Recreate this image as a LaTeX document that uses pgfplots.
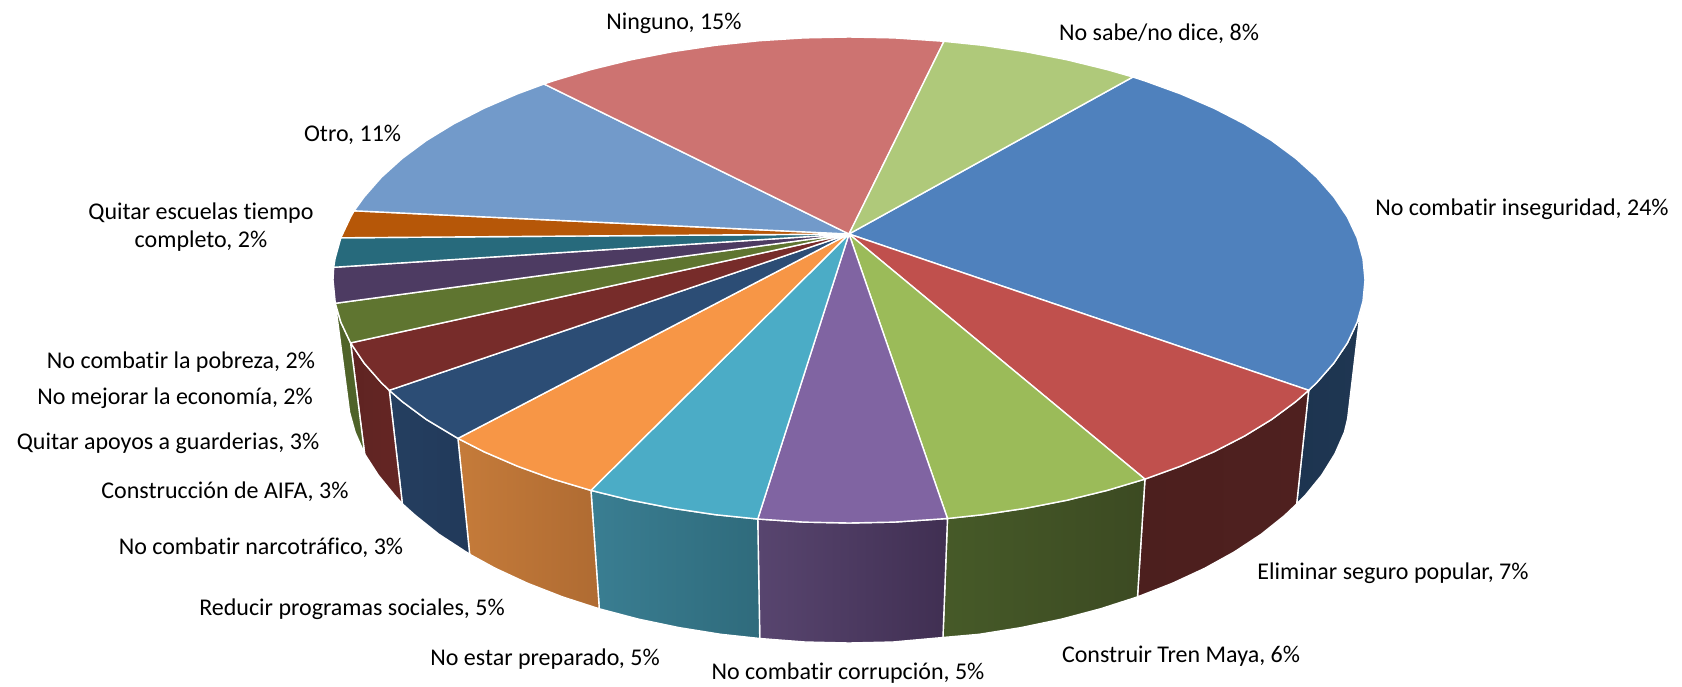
\documentclass[border=0pt]{standalone}
\usepackage{fontspec}
\setmainfont[Ligatures=NoCommon]{Carlito}
\usepackage{pgfplots}
\pgfplotsset{compat=1.18}

\definecolor{cblue}{HTML}{4F81BD}
\definecolor{cred}{HTML}{C0504D}
\definecolor{cgreen}{HTML}{9BBB59}
\definecolor{cpurple}{HTML}{8064A2}
\definecolor{cteal}{HTML}{4BACC6}
\definecolor{corange}{HTML}{F79646}
\definecolor{cnavy}{HTML}{2C4D75}
\definecolor{cmaroon}{HTML}{772C2A}
\definecolor{colive}{HTML}{5F7530}
\definecolor{cdpurple}{HTML}{4D3B62}
\definecolor{cdteal}{HTML}{276A7C}
\definecolor{cdorange}{HTML}{B65708}
\definecolor{cotro}{HTML}{729ACA}
\definecolor{cning}{HTML}{CD7371}
\definecolor{cnosabe}{HTML}{AFC97A}
% side wall colours, left and right end of each shade
\definecolor{sblueL}{HTML}{1D3450}
\definecolor{sblueR}{HTML}{1F3752}
\definecolor{sredL}{HTML}{4C1F1E}
\definecolor{sredR}{HTML}{4F201F}
\definecolor{sgreenL}{HTML}{465A28}
\definecolor{sgreenR}{HTML}{3C4A22}
\definecolor{spurpleL}{HTML}{58456F}
\definecolor{spurpleR}{HTML}{402F52}
\definecolor{stealL}{HTML}{3A7E92}
\definecolor{stealR}{HTML}{2F6B7C}
\definecolor{sorangeL}{HTML}{C57B3A}
\definecolor{sorangeR}{HTML}{AF6B32}
\definecolor{snavyL}{HTML}{253F60}
\definecolor{snavyR}{HTML}{21395A}
\definecolor{smaroonL}{HTML}{5F2422}
\definecolor{smaroonR}{HTML}{652624}
\definecolor{soliveL}{HTML}{4F6329}
\definecolor{soliveR}{HTML}{4F6329}

\pgfplotsset{
  wedge/.style={draw=white,line width=0.7pt,fill=#1,mark=none,line join=round},
  side/.style={draw=white,line width=0.7pt,left color=s#1L,right color=s#1R,mark=none,line join=round},
}

\begin{document}
\begin{tikzpicture}
\begin{axis}[
    hide axis,
    scale only axis,
    width=841pt,height=343pt,
    xmin=1.61,xmax=1675.46,ymin=0,ymax=686,
    y dir=reverse,
    clip=false,
]
\path (axis cs:1.61,0) rectangle (axis cs:1675.46,686);

% side walls
\addplot[side=blue] coordinates {(1355.5,310)(1352.2,322.2)(1342.5,342.9)(1329,363.1)(1311.9,382.7)(1304,390.3)(1292,504)(1300.2,495.8)(1316.9,475.2)(1330,454)(1339.5,432.3)(1342.7,419)} -- cycle;
\addplot[side=red] coordinates {(1304,390.3)(1291.2,401.5)(1267.2,419.4)(1239.8,436.2)(1209.6,451.8)(1176.6,466.1)(1141,479.1)(1133.6,596.9)(1168.3,583.3)(1200.5,568.3)(1230,551.9)(1256.6,534.3)(1280,515.5)(1292,504)} -- cycle;
\addplot[side=green] coordinates {(1141,479.1)(1103.3,490.4)(1063.5,500.2)(1022.1,508.3)(979.4,514.7)(944.5,518.5)(940,637.5)(976.1,634.3)(1017.7,627.6)(1058.1,619.1)(1096.8,608.8)(1133.6,596.9)} -- cycle;
\addplot[side=purple] coordinates {(944.5,518.5)(891.3,522.1)(846.5,523)(801.7,522.1)(755.7,519)(757.7,638.5)(802.8,642)(846.5,643)(890.2,642)(940,637.5)} -- cycle;
\addplot[side=teal] coordinates {(755.7,519)(713.6,514.7)(670.9,508.3)(629.5,500.2)(589.7,490.4)(598,608.8)(636.9,619.1)(677.3,627.6)(718.9,634.3)(757.7,638.5)} -- cycle;
\addplot[side=orange] coordinates {(589.7,490.4)(552,479.1)(516.4,466.1)(483.4,451.8)(457.3,438.4)(469,554.3)(494.5,568.3)(526.7,583.3)(561.4,596.9)(598,608.8)} -- cycle;
\addplot[side=navy] coordinates {(457.3,438.4)(425.8,419.4)(401.8,401.5)(389,390.3)(402,503.8)(415,515.5)(438.4,534.3)(469,554.3)} -- cycle;
\addplot[side=maroon] coordinates {(389,390.3)(381.1,382.7)(364,363.1)(350.5,342.9)(364.5,454)(378.1,475.2)(394.8,495.8)(402,503.8)} -- cycle;
\addplot[side=olive] coordinates {(350.5,342.9)(340.8,322.2)(335.3,303.3)(349.5,412.4)(355,432.3)(364.5,454)} -- cycle;

% top face, clockwise from the largest slice
\addplot[wedge=cblue] coordinates {(846.5,234)(1129,77)(1141,80.9)(1176.6,93.9)(1209.6,108.2)(1239.8,123.8)(1267.2,140.6)(1291.2,158.5)(1311.9,177.3)(1329,196.9)(1342.5,217.1)(1352.2,237.8)(1358,258.8)(1360,280)(1358,301.2)(1352.2,322.2)(1342.5,342.9)(1329,363.1)(1311.9,382.7)(1304,390.3)} -- cycle;
\addplot[wedge=cred] coordinates {(846.5,234)(1304,390.3)(1291.2,401.5)(1267.2,419.4)(1239.8,436.2)(1209.6,451.8)(1176.6,466.1)(1141,479.1)} -- cycle;
\addplot[wedge=cgreen] coordinates {(846.5,234)(1141,479.1)(1103.3,490.4)(1063.5,500.2)(1022.1,508.3)(979.4,514.7)(944.5,518.5)} -- cycle;
\addplot[wedge=cpurple] coordinates {(846.5,234)(944.5,518.5)(891.3,522.1)(846.5,523)(801.7,522.1)(755.7,519)} -- cycle;
\addplot[wedge=cteal] coordinates {(846.5,234)(755.7,519)(713.6,514.7)(670.9,508.3)(629.5,500.2)(589.7,490.4)} -- cycle;
\addplot[wedge=corange] coordinates {(846.5,234)(589.7,490.4)(552,479.1)(516.4,466.1)(483.4,451.8)(457.3,438.4)} -- cycle;
\addplot[wedge=cnavy] coordinates {(846.5,234)(457.3,438.4)(425.8,419.4)(401.8,401.5)(389,390.3)} -- cycle;
\addplot[wedge=cmaroon] coordinates {(846.5,234)(389,390.3)(381.1,382.7)(364,363.1)(350.5,342.9)} -- cycle;
\addplot[wedge=colive] coordinates {(846.5,234)(350.5,342.9)(340.8,322.2)(335.3,303.3)} -- cycle;
\addplot[wedge=cdpurple] coordinates {(846.5,234)(335.3,303.3)(333,280)(333.7,267.3)} -- cycle;
\addplot[wedge=cdteal] coordinates {(846.5,234)(333.7,267.3)(335,258.8)(340.8,237.8)} -- cycle;
\addplot[wedge=cdorange] coordinates {(846.5,234)(340.8,237.8)(350.5,217.1)(354,210.8)} -- cycle;
\addplot[wedge=cotro] coordinates {(846.5,234)(354,210.8)(364,196.9)(381.1,177.3)(401.8,158.5)(425.8,140.6)(453.2,123.8)(483.4,108.2)(516.4,93.9)(543,84)} -- cycle;
\addplot[wedge=cning] coordinates {(846.5,234)(543,84)(552,80.9)(589.7,69.6)(629.5,59.8)(670.9,51.7)(713.6,45.3)(757.4,40.7)(801.7,37.9)(846.5,37)(891.3,37.9)(941,41.3)} -- cycle;
\addplot[wedge=cnosabe] coordinates {(846.5,234)(941,41.3)(979.4,45.3)(1022.1,51.7)(1063.5,59.8)(1103.3,69.6)(1129,77)} -- cycle;

% data labels
\begin{scope}[every node/.style={font=\fontsize{12}{14.4}\selectfont,text=black,inner sep=0pt,align=center}]
\node at (axis cs:672.3,23) {Ninguno, 15\%};
\node at (axis cs:1155,34) {No sabe/no dice, 8\%};
\node at (axis cs:1516.2,209) {No combatir inseguridad, 24\%};
\node at (axis cs:1387.9,573) {Eliminar seguro popular, 7\%};
\node at (axis cs:1176.9,656) {Construir Tren Maya, 6\%};
\node at (axis cs:845.5,673) {No combatir corrupción, 5\%};
\node at (axis cs:544,659) {No estar preparado, 5\%};
\node at (axis cs:351.9,609) {Reducir programas sociales, 5\%};
\node at (axis cs:261.3,548) {No combatir narcotráfico, 3\%};
\node at (axis cs:225.5,492) {Construcción de AIFA, 3\%};
\node at (axis cs:168.8,443) {Quitar apoyos a guarderias, 3\%};
\node at (axis cs:175.8,398) {No mejorar la economía, 2\%};
\node at (axis cs:181.7,362) {No combatir la pobreza, 2\%};
\node at (axis cs:201.6,227) {Quitar escuelas tiempo\\completo, 2\%};
\node at (axis cs:352.5,135) {Otro, 11\%};
\end{scope}
\end{axis}
\end{tikzpicture}
\end{document}
